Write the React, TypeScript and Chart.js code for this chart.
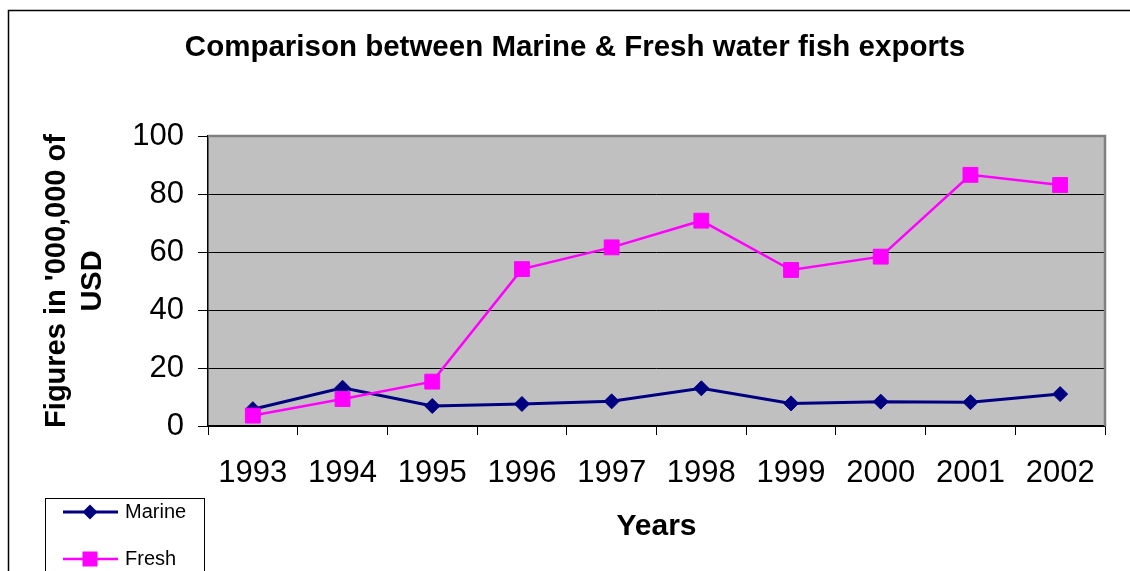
import React, { useEffect, useRef } from "react";
import { Chart, registerables } from "chart.js";

Chart.register(...registerables);

const years = ["1993", "1994", "1995", "1996", "1997", "1998", "1999", "2000", "2001", "2002"];
const marine = [5.8, 13.2, 6.9, 7.6, 8.5, 13.0, 7.8, 8.4, 8.2, 11.0];
const fresh = [3.6, 9.3, 15.3, 54.1, 61.6, 70.8, 53.8, 58.4, 86.6, 83.1];
const yMin = 0;
const yMax = 100;
const yStep = 20;

const chartTitle = "Comparison between Marine & Fresh water fish exports";
const yTitleLines = ["Figures in '000,000 of", "USD"];
const xTitle = "Years";
const seriesNames = ["Marine", "Fresh"];

const FONT = "'Liberation Sans', Arial, Helvetica, sans-serif";
const NAVY = "#000080";
const MAGENTA = "#FF00FF";

const decor = {
  id: "decor",
  beforeDraw(chart: any) {
    const { ctx, chartArea: a } = chart;
    ctx.save();
    ctx.fillStyle = "#ffffff";
    ctx.fillRect(0, 0, chart.width, chart.height);
    ctx.fillStyle = "#C0C0C0";
    ctx.fillRect(a.left, a.top, a.right - a.left, a.bottom - a.top);
    ctx.restore();
  },
  afterDraw(chart: any) {
    const { ctx, chartArea: a } = chart;
    ctx.save();
    // plot area gray border (top and right)
    ctx.strokeStyle = "#808080";
    ctx.lineWidth = 2.5;
    ctx.beginPath();
    ctx.moveTo(a.left, a.top);
    ctx.lineTo(a.right, a.top);
    ctx.lineTo(a.right, a.bottom);
    ctx.stroke();

    // outer chart frame
    ctx.strokeStyle = "#000";
    ctx.lineWidth = 1.5;
    ctx.strokeRect(8.5, 10.5, 1140, 700);

    // title
    ctx.fillStyle = "#000";
    ctx.textAlign = "center";
    ctx.textBaseline = "middle";
    ctx.font = `bold 29.5px ${FONT}`;
    ctx.fillText(chartTitle, 575, 48);

    // y title
    ctx.save();
    ctx.translate(57, (a.top + a.bottom) / 2);
    ctx.rotate(-Math.PI / 2);
    ctx.font = `bold 29px ${FONT}`;
    ctx.fillText(yTitleLines[0], 0, 0);
    ctx.fillText(yTitleLines[1], 0, 36);
    ctx.restore();

    // x title
    ctx.font = `bold 30px ${FONT}`;
    ctx.fillText(xTitle, (a.left + a.right) / 2, 527);

    // legend
    ctx.strokeStyle = "#000";
    ctx.lineWidth = 1;
    ctx.strokeRect(45.5, 498.5, 159, 120);
    const rows = [
      { name: seriesNames[0], color: NAVY, y: 512, shape: "diamond", lw: 3 },
      { name: seriesNames[1], color: MAGENTA, y: 559, shape: "square", lw: 2.5 },
    ];
    rows.forEach((r) => {
      ctx.strokeStyle = r.color;
      ctx.fillStyle = r.color;
      ctx.lineWidth = r.lw;
      ctx.beginPath();
      ctx.moveTo(63, r.y);
      ctx.lineTo(118, r.y);
      ctx.stroke();
      ctx.beginPath();
      if (r.shape === "diamond") {
        ctx.moveTo(90, r.y - 7.5);
        ctx.lineTo(97.5, r.y);
        ctx.lineTo(90, r.y + 7.5);
        ctx.lineTo(82.5, r.y);
        ctx.closePath();
      } else {
        ctx.rect(82.5, r.y - 7.5, 15, 15);
      }
      ctx.fill();
      ctx.fillStyle = "#000";
      ctx.textAlign = "left";
      ctx.textBaseline = "middle";
      ctx.font = `20px ${FONT}`;
      ctx.fillText(r.name, 125, r.y);
    });
    ctx.restore();
  },
};

export default function App() {
  const ref = useRef<HTMLCanvasElement | null>(null);
  useEffect(() => {
    if (!ref.current) return;
    const chart = new Chart(ref.current, {
      type: "line",
      data: {
        labels: years,
        datasets: [
          {
            label: seriesNames[0],
            data: marine,
            borderColor: NAVY,
            backgroundColor: NAVY,
            borderWidth: 3,
            pointStyle: "rectRot",
            pointRadius: 7.5,
            pointBorderWidth: 1,
            pointBackgroundColor: NAVY,
            pointBorderColor: NAVY,
            tension: 0,
            order: 1,
          },
          {
            label: seriesNames[1],
            data: fresh,
            borderColor: MAGENTA,
            backgroundColor: MAGENTA,
            borderWidth: 2.5,
            pointStyle: "rect",
            pointRadius: 10.5,
            pointBorderWidth: 1,
            pointBackgroundColor: MAGENTA,
            pointBorderColor: MAGENTA,
            tension: 0,
            order: 0,
          },
        ],
      },
      options: {
        responsive: false,
        animation: false,
        devicePixelRatio: 1,
        layout: { padding: { top: 136, right: 25, bottom: 85, left: 0 } },
        plugins: {
          legend: { display: false },
          title: { display: false },
          tooltip: { enabled: false },
        },
        scales: {
          x: {
            type: "category",
            offset: true,
            grid: {
              offset: true,
              drawOnChartArea: false,
              drawTicks: true,
              tickLength: 9,
              color: "#000",
              lineWidth: 1,
            },
            border: { color: "#000", width: 1.5 },
            ticks: {
              color: "#000",
              font: { family: FONT, size: 31 },
              padding: 20,
              maxRotation: 0,
              autoSkip: false,
            },
            afterFit: (s: any) => {
              s.height = 60;
            },
          },
          y: {
            min: yMin,
            max: yMax,
            grid: { color: "#000", lineWidth: 1, tickLength: 10 },
            border: { color: "#000", width: 1.5 },
            ticks: {
              stepSize: yStep,
              color: "#000",
              font: { family: FONT, size: 31 },
              padding: 14,
            },
            afterFit: (s: any) => {
              s.width = 208;
            },
          },
        },
      },
      plugins: [decor],
    });
    return () => chart.destroy();
  }, []);
  return (
    <div style={{ position: "absolute", left: 0, top: 0, width: 1130, height: 571, background: "#fff" }}>
      <canvas ref={ref} width={1130} height={571} style={{ display: "block" }} />
    </div>
  );
}
